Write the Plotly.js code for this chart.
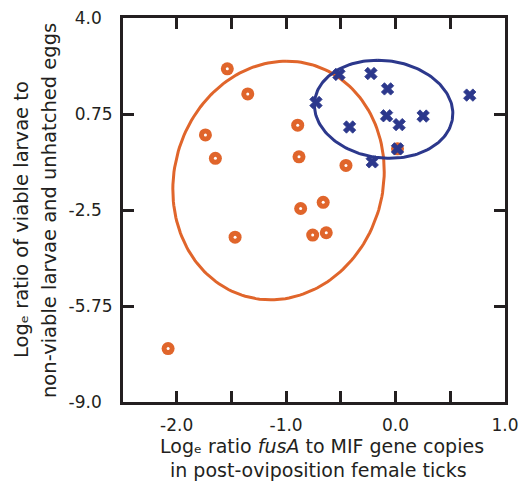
<!DOCTYPE html>
<html>
<head>
<meta charset="utf-8">
<script src="https://cdn.plot.ly/plotly-3.0.1.min.js"></script>
<style>html,body{margin:0;padding:0;background:#fff;}</style>
</head>
<body>
<div id="chart" style="width:521px;height:486px;"></div>
<script>
// Orange group (circles)
const orangeX = [-1.537, -1.350, -1.737, -1.646, -0.894, -0.882, -0.867, -1.466, -0.757, -0.633, -0.661, -0.453, -2.078, 0.018];
const orangeY = [2.28, 1.43, 0.04, -0.75, 0.37, -0.70, -2.45, -3.42, -3.35, -3.27, -2.24, -0.99, -7.19, -0.43];
// Blue group (crosses)
const blueX = [-0.517, -0.225, -0.073, -0.727, 0.678, -0.420, -0.082, 0.033, 0.252, 0.018, -0.213];
const blueY = [2.09, 2.12, 1.60, 1.14, 1.39, 0.31, 0.69, 0.39, 0.68, -0.43, -0.87];
// Ellipses: centre, conjugate semi-axis A, conjugate semi-axis B (data units)
const orangeEllipseCenter = [-1.069, -1.50];
const orangeEllipseA = [0.073, 4.04];
const orangeEllipseB = [0.963, 0];
const blueEllipseCenter = [-0.109, 0.91];
const blueEllipseA = [-0.055, 1.66];
const blueEllipseB = [0.63, 0];
// Ticks
const xTickVals = [-2.0, -1.0, 0.0, 1.0];
const xTickText = ['-2.0', '-1.0', '0.0', '1.0'];
const yTickVals = [4.0, 0.75, -2.5, -5.75, -9.0];
const yTickText = ['4.0\u2007', '0.75', '-2.5\u2007', '-5.75', '-9.0\u2007'];

const ORANGE = '#e0652b';
const BLUE = '#2c388c';
const INK = '#231f20';
const FONT = 'DejaVu Sans';

function ellipse(c, a, b) {
  const xs = [], ys = [];
  const n = 180;
  for (let i = 0; i <= n; i++) {
    const t = 2 * Math.PI * i / n;
    xs.push(c[0] + a[0] * Math.cos(t) + b[0] * Math.sin(t));
    ys.push(c[1] + a[1] * Math.cos(t) + b[1] * Math.sin(t));
  }
  return {xs, ys};
}
const eo = ellipse(orangeEllipseCenter, orangeEllipseA, orangeEllipseB);
const eb = ellipse(blueEllipseCenter, blueEllipseA, blueEllipseB);

const traces = [
  {x: eo.xs, y: eo.ys, mode: 'lines', line: {color: ORANGE, width: 3}, hoverinfo: 'skip'},
  {x: eb.xs, y: eb.ys, mode: 'lines', line: {color: BLUE, width: 3}, hoverinfo: 'skip'},
  {x: orangeX, y: orangeY, mode: 'markers', marker: {symbol: 'circle', size: 13, color: ORANGE}},
  {x: orangeX, y: orangeY, mode: 'markers', marker: {symbol: 'circle', size: 3, color: '#ffffff'}},
  {x: blueX, y: blueY, mode: 'markers', marker: {symbol: 'x', size: 11, color: BLUE, line: {color: BLUE, width: 0.8}}}
];

const axisCommon = {
  showline: true, linewidth: 3, linecolor: INK, mirror: 'ticks',
  ticks: 'inside', ticklen: 11, tickwidth: 3, tickcolor: INK,
  showgrid: false, zeroline: false,
  tickfont: {family: FONT, size: 17, color: INK},
  tickmode: 'array', fixedrange: true
};

const layout = {
  width: 521, height: 486,
  margin: {l: 123, r: 16, t: 18, b: 84},
  paper_bgcolor: '#ffffff', plot_bgcolor: '#ffffff',
  showlegend: false,
  xaxis: Object.assign({}, axisCommon, {
    range: [-2.49, 1.0], tickvals: xTickVals, ticktext: xTickText, ticklabelstandoff: 6,
    minor: {tickmode: 'linear', tick0: 0, dtick: 0.5, ticks: 'inside', ticklen: 11, tickwidth: 3, tickcolor: INK, showgrid: false}
  }),
  yaxis: Object.assign({}, axisCommon, {range: [-9.0, 4.0], tickvals: yTickVals, ticktext: yTickText, ticklabelstandoff: 4}),
  annotations: [
    {xref: 'paper', yref: 'paper', x: (21 - 123) / 382, y: 1 - (220 - 18) / 384, xanchor: 'center', yanchor: 'middle',
     textangle: -90, showarrow: false, text: 'Log\u2091 ratio of viable larvae to', font: {family: FONT, size: 19.5, color: INK}},
    {xref: 'paper', yref: 'paper', x: (49 - 123) / 382, y: 1 - (211 - 18) / 384, xanchor: 'center', yanchor: 'middle',
     textangle: -90, showarrow: false, text: 'non-viable larvae and unhatched eggs', font: {family: FONT, size: 19.5, color: INK}},
    {xref: 'paper', yref: 'paper', x: (322 - 123) / 382, y: 1 - (446 - 18) / 384, xanchor: 'center', yanchor: 'middle',
     showarrow: false, text: 'Log\u2091 ratio <i>fusA</i> to MIF gene copies', font: {family: FONT, size: 19, color: INK}},
    {xref: 'paper', yref: 'paper', x: (318 - 123) / 382, y: 1 - (470 - 18) / 384, xanchor: 'center', yanchor: 'middle',
     showarrow: false, text: 'in post-oviposition female ticks', font: {family: FONT, size: 19, color: INK}}
  ]
};

Plotly.newPlot('chart', traces, layout, {displayModeBar: false, staticPlot: true});
</script>
</body>
</html>
